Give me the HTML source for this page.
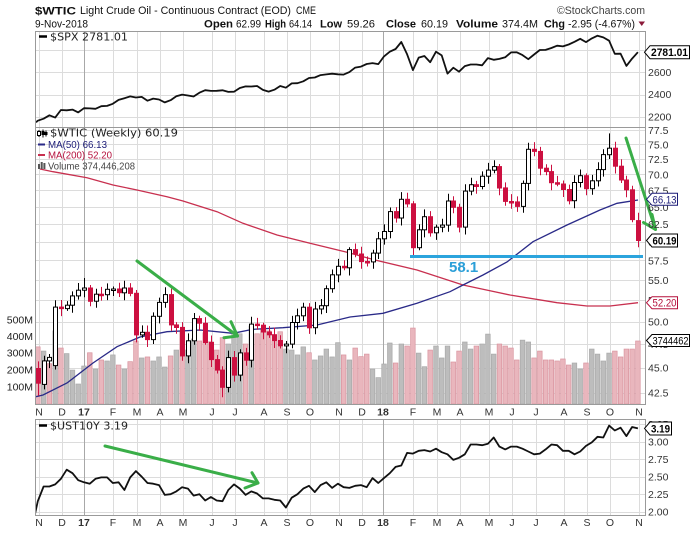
<!DOCTYPE html>
<html><head><meta charset="utf-8"><title>WTIC</title>
<style>
html,body{margin:0;padding:0;background:#fff;width:694px;height:535px;overflow:hidden}
svg{display:block}
.ax{font-family:"Liberation Sans",Arial,sans-serif;font-size:10.5px;fill:#333}
.mo{font-family:"Liberation Sans",Arial,sans-serif;font-size:10.5px;fill:#333;text-anchor:middle}
.lg{font-family:"DejaVu Sans",Verdana,sans-serif;font-size:11px;fill:#222}
.lg2{font-family:"Liberation Sans",Arial,sans-serif;font-size:10.5px}
.hd{font-family:"Liberation Sans",Arial,sans-serif;font-size:11px;fill:#111}
.b{font-weight:bold}
</style></head><body>
<svg id="c" width="694" height="535" viewBox="0 0 694 535" xmlns="http://www.w3.org/2000/svg">
<defs>
<clipPath id="cpS"><rect x="36" y="31" width="609" height="96"/></clipPath>
<clipPath id="cpM"><rect x="36" y="127" width="609" height="277"/></clipPath>
<clipPath id="cpU"><rect x="36" y="419" width="609" height="96"/></clipPath>
</defs>
<rect width="694" height="535" fill="#fff"/>
<g id="grid"></g>
<g id="vol" clip-path="url(#cpM)"></g>
<g clip-path="url(#cpM)" fill="none" stroke-width="1.3">
<polyline stroke="#c8304f" points="40,169 53,171.7 87,177.7 113,185 137,190 167,196.7 183,201 217,211.7 243,223.3 277,235 310,243.3 347,252.3 375,260 417,270 463,285 490,290.7 510,295 557,302.7 587,306 610,306 638,302.7"/>
<polyline stroke="#2a2a88" points="36,396.7 43,395 67,383 93,363 117,346.7 140,337 167,331.7 200,330 233,333.3 253,329.3 283,327.7 317,325 350,317 383,313.3 417,303.3 450,291.7 463,285 483,275 507,262 533,241.7 567,225 600,210 617,203.3 638,200"/>
</g>
<g id="cdl" clip-path="url(#cpM)"></g>
<g id="spx" clip-path="url(#cpS)"></g>
<g id="ust" clip-path="url(#cpU)"></g>

<!-- panel borders -->
<rect x="35.5" y="31.5" width="610" height="96" fill="none" stroke="#9a9a9a"/>
<rect x="35.5" y="127.5" width="610" height="277" fill="none" stroke="#9a9a9a"/>
<rect x="35.5" y="419.5" width="610" height="96" fill="none" stroke="#9a9a9a"/>

<!-- support line -->
<line x1="410" y1="256.5" x2="643" y2="256.5" stroke="#2ba4dd" stroke-width="3"/>
<text x="449" y="272" font-family="Liberation Sans, Arial, sans-serif" font-size="15" font-weight="bold" fill="#2b9fd8">58.1</text>

<!-- green arrows -->
<g fill="none" stroke="#3aae48" stroke-width="3" stroke-linecap="round" stroke-linejoin="round">
<line x1="137" y1="261" x2="237.5" y2="336"/>
<polyline points="231,321.7 237.5,336 224,337.7"/>
<line x1="626" y1="138" x2="655.5" y2="229.5"/>
<polyline points="652,214.5 655.5,229.5 643.5,222.5"/>
<line x1="105" y1="446" x2="258" y2="483"/>
<polyline points="252,472.7 258,483 245,488"/>
</g>

<!-- header -->
<text x="35" y="14.5" class="hd b" font-size="14" textLength="41" lengthAdjust="spacingAndGlyphs">$WTIC</text>
<text x="80" y="14" class="hd" font-size="12.5" textLength="211" lengthAdjust="spacingAndGlyphs">Light Crude Oil - Continuous Contract (EOD)</text>
<text x="296" y="14" class="hd" font-size="9.5" textLength="20" lengthAdjust="spacingAndGlyphs">CME</text>
<text x="557" y="14" class="hd" style="fill:#444" textLength="88" lengthAdjust="spacingAndGlyphs">©StockCharts.com</text>
<text x="35" y="27.3" class="hd" textLength="53" lengthAdjust="spacingAndGlyphs">9-Nov-2018</text>
<text x="204" y="27.3" class="hd b" textLength="29" lengthAdjust="spacingAndGlyphs">Open</text>
<text x="236" y="27.3" class="hd" textLength="25" lengthAdjust="spacingAndGlyphs">62.99</text>
<text x="265" y="27.3" class="hd b" textLength="21" lengthAdjust="spacingAndGlyphs">High</text>
<text x="289" y="27.3" class="hd" textLength="23" lengthAdjust="spacingAndGlyphs">64.14</text>
<text x="320" y="27.3" class="hd b" textLength="22" lengthAdjust="spacingAndGlyphs">Low</text>
<text x="347" y="27.3" class="hd" textLength="28" lengthAdjust="spacingAndGlyphs">59.26</text>
<text x="386" y="27.3" class="hd b" textLength="30" lengthAdjust="spacingAndGlyphs">Close</text>
<text x="421" y="27.3" class="hd" textLength="27" lengthAdjust="spacingAndGlyphs">60.19</text>
<text x="456" y="27.3" class="hd b" textLength="42" lengthAdjust="spacingAndGlyphs">Volume</text>
<text x="502" y="27.3" class="hd" textLength="36" lengthAdjust="spacingAndGlyphs">374.4M</text>
<text x="544" y="27.3" class="hd b" textLength="21" lengthAdjust="spacingAndGlyphs">Chg</text>
<text x="568" y="27.3" class="hd" textLength="67" lengthAdjust="spacingAndGlyphs">-2.95 (-4.67%)</text>
<polygon points="638.5,21.5 645,21.5 641.75,26" fill="#8b1a3a"/>

<!-- legends -->
<line x1="39" y1="36.5" x2="47" y2="36.5" stroke="#000" stroke-width="2.5"/>
<text x="50" y="40.5" class="lg" textLength="78" lengthAdjust="spacingAndGlyphs">$SPX 2781.01</text>

<g fill="#000">
<rect x="38.5" y="130" width="1" height="7"/><rect x="37.5" y="131.5" width="3" height="4" fill="#fff" stroke="#000" stroke-width="1"/>
<rect x="42.5" y="129.5" width="1" height="8"/><rect x="41.5" y="131" width="3" height="4"/>
<rect x="45.5" y="130.5" width="1" height="6"/><rect x="44.5" y="132" width="3" height="3"/>
</g>
<text x="50" y="136.5" class="lg" textLength="128" lengthAdjust="spacingAndGlyphs">$WTIC (Weekly) 60.19</text>
<line x1="38" y1="144.5" x2="45" y2="144.5" stroke="#2a2a88" stroke-width="2"/>
<text x="48" y="148" class="lg2" fill="#1c1c78" textLength="59" lengthAdjust="spacingAndGlyphs">MA(50) 66.13</text>
<line x1="38" y1="155" x2="45" y2="155" stroke="#c8304f" stroke-width="2"/>
<text x="48" y="158.7" class="lg2" fill="#b5103c" textLength="64" lengthAdjust="spacingAndGlyphs">MA(200) 52.20</text>
<g fill="#555">
<rect x="38" y="164" width="2" height="5"/><rect x="40.7" y="162" width="2" height="7"/><rect x="43.4" y="163" width="2" height="6"/>
</g>
<text x="48" y="169.3" class="lg2" fill="#444" textLength="87" lengthAdjust="spacingAndGlyphs">Volume 374,446,208</text>

<line x1="39" y1="425.5" x2="47" y2="425.5" stroke="#000" stroke-width="2.5"/>
<text x="50" y="429.5" class="lg" textLength="78" lengthAdjust="spacingAndGlyphs">$UST10Y 3.19</text>

<!-- right axis SPX -->
<text x="648" y="76" class="ax">2600</text>
<text x="648" y="98" class="ax">2400</text>
<text x="648" y="120.5" class="ax">2200</text>
<text x="648" y="54" class="ax">2800</text>

<!-- right axis main -->
<text x="648" y="134" class="ax">77.5</text>
<text x="648" y="148.3" class="ax">75.0</text>
<text x="648" y="163" class="ax">72.5</text>
<text x="648" y="178.5" class="ax">70.0</text>
<text x="648" y="194.4" class="ax">67.5</text>
<text x="648" y="210.9" class="ax">65.0</text>
<text x="648" y="228" class="ax">62.5</text>
<text x="648" y="245.8" class="ax">60.0</text>
<text x="648" y="264.4" class="ax">57.5</text>
<text x="648" y="283.9" class="ax">55.0</text>
<text x="648" y="304.2" class="ax">52.5</text>
<text x="648" y="325.5" class="ax">50.0</text>
<text x="648" y="347.9" class="ax">47.5</text>
<text x="648" y="371.6" class="ax">45.0</text>
<text x="648" y="396.5" class="ax">42.5</text>

<!-- left volume axis -->
<text x="33" y="323.3" class="ax" text-anchor="end" style="fill:#222">500M</text>
<text x="33" y="340" class="ax" text-anchor="end" style="fill:#222">400M</text>
<text x="33" y="356.5" class="ax" text-anchor="end" style="fill:#222">300M</text>
<text x="33" y="373.3" class="ax" text-anchor="end" style="fill:#222">200M</text>
<text x="33" y="390.3" class="ax" text-anchor="end" style="fill:#222">100M</text>

<!-- right axis UST -->
<text x="648" y="428.2" class="ax">3.25</text>
<text x="648" y="445.7" class="ax">3.00</text>
<text x="648" y="463.2" class="ax">2.75</text>
<text x="648" y="480.7" class="ax">2.50</text>
<text x="648" y="498.2" class="ax">2.25</text>
<text x="648" y="515.7" class="ax">2.00</text>

<!-- value boxes -->
<g font-family="Liberation Sans, Arial, sans-serif" font-size="11">
<polygon points="644.5,52.2 650,45.7 689.5,45.7 689.5,58.7 650,58.7" fill="#fff" stroke="#000"/>
<text x="651" y="56.2" font-weight="bold" fill="#000" textLength="37" lengthAdjust="spacingAndGlyphs">2781.01</text>

<polygon points="646.5,199.3 652,193.3 677.5,193.3 677.5,205.3 652,205.3" fill="#fff" stroke="#1c1c78"/>
<text x="652.5" y="203.3" fill="#1c1c78" textLength="24" lengthAdjust="spacingAndGlyphs">66.13</text>

<polygon points="646.5,240.5 652,234 677.5,234 677.5,247 652,247" fill="#fff" stroke="#000"/>
<text x="652.5" y="244.6" font-weight="bold" fill="#000" textLength="24" lengthAdjust="spacingAndGlyphs">60.19</text>

<polygon points="646.5,302.7 652,296.7 677.5,296.7 677.5,308.7 652,308.7" fill="#fff" stroke="#b5103c"/>
<text x="652.5" y="306.7" fill="#b5103c" textLength="24" lengthAdjust="spacingAndGlyphs">52.20</text>

<polygon points="646.5,340.5 652,334.5 689.5,334.5 689.5,346.5 652,346.5" fill="#fff" stroke="#000"/>
<text x="652.5" y="344.5" fill="#000" textLength="36" lengthAdjust="spacingAndGlyphs">3744462</text>

<polygon points="644.5,428.4 650,422 671.5,422 671.5,435 650,435" fill="#fff" stroke="#000"/>
<text x="651" y="432.5" font-weight="bold" fill="#000" textLength="19" lengthAdjust="spacingAndGlyphs">3.19</text>
</g>

<!-- month labels middle -->
<g>
<text x="39" y="415.5" class="mo">N</text><text x="62" y="415.5" class="mo">D</text><text x="84" y="415.5" class="mo b">17</text><text x="113" y="415.5" class="mo">F</text><text x="137" y="415.5" class="mo">M</text><text x="160" y="415.5" class="mo">A</text><text x="183" y="415.5" class="mo">M</text><text x="212" y="415.5" class="mo">J</text><text x="235" y="415.5" class="mo">J</text><text x="264" y="415.5" class="mo">A</text><text x="287" y="415.5" class="mo">S</text><text x="310" y="415.5" class="mo">O</text><text x="339" y="415.5" class="mo">N</text><text x="362" y="415.5" class="mo">D</text><text x="383" y="415.5" class="mo b">18</text><text x="413" y="415.5" class="mo">F</text><text x="437" y="415.5" class="mo">M</text><text x="460" y="415.5" class="mo">A</text><text x="489" y="415.5" class="mo">M</text><text x="512" y="415.5" class="mo">J</text><text x="536" y="415.5" class="mo">J</text><text x="564" y="415.5" class="mo">A</text><text x="587" y="415.5" class="mo">S</text><text x="610" y="415.5" class="mo">O</text><text x="639" y="415.5" class="mo">N</text>
</g>
<g>
<text x="39" y="526" class="mo">N</text><text x="62" y="526" class="mo">D</text><text x="84" y="526" class="mo b">17</text><text x="113" y="526" class="mo">F</text><text x="137" y="526" class="mo">M</text><text x="160" y="526" class="mo">A</text><text x="183" y="526" class="mo">M</text><text x="212" y="526" class="mo">J</text><text x="235" y="526" class="mo">J</text><text x="264" y="526" class="mo">A</text><text x="287" y="526" class="mo">S</text><text x="310" y="526" class="mo">O</text><text x="339" y="526" class="mo">N</text><text x="362" y="526" class="mo">D</text><text x="383" y="526" class="mo b">18</text><text x="413" y="526" class="mo">F</text><text x="437" y="526" class="mo">M</text><text x="460" y="526" class="mo">A</text><text x="489" y="526" class="mo">M</text><text x="512" y="526" class="mo">J</text><text x="536" y="526" class="mo">J</text><text x="564" y="526" class="mo">A</text><text x="587" y="526" class="mo">S</text><text x="610" y="526" class="mo">O</text><text x="639" y="526" class="mo">N</text>
</g>
</svg>
<script>
(function(){
var NS="http://www.w3.org/2000/svg";
function el(p,t,a){var e=document.createElementNS(NS,t);for(var k in a)e.setAttribute(k,a[k]);document.getElementById(p).appendChild(e);return e;}
function X(w){return 84+5.77*w;}
function YP(p){return 130+437*Math.log(77.5/p);}
function YS(v){return 72.3-(v-2600)*0.111;}
function YU(v){return 441.7-(v-3)*70;}
var mx=[39,62,84,113,137,160,183,212,235,264,287,310,339,362,383,413,437,460,489,512,536,564,587,610,639];
function hl(y){y=Math.round(y)+0.5;el('grid','line',{x1:36,x2:645,y1:y,y2:y,stroke:'#dcdcdc','stroke-width':1});}
[2200,2400,2600,2800].forEach(function(v){hl(YS(v));});
for(var p=42.5;p<=77.6;p+=2.5)hl(YP(p));
[2,2.25,2.5,2.75,3,3.25].forEach(function(v){hl(YU(v));});
mx.forEach(function(x){
 var yr=(x==84||x==383),col=yr?'#a8a8a8':'#dcdcdc';
 [[31,127],[127,404],[419,515]].forEach(function(r){el('grid','line',{x1:x+0.5,x2:x+0.5,y1:r[0],y2:r[1],stroke:col,'stroke-width':1});});
});
var C=[43.41,45.69,46.06,51.68,51.50,51.90,53.02,53.72,
53.99,52.37,53.22,53.17,53.83,53.86,53.40,53.99,53.33,48.49,48.78,47.97,50.60,52.24,53.18,49.62,49.33,46.22,47.84,50.33,49.80,47.66,45.83,44.74,43.01,46.04,44.23,46.54,45.77,49.71,49.58,48.82,48.51,47.87,47.29,47.48,49.89,50.66,51.67,49.29,51.45,51.84,53.90,55.64,56.74,56.55,58.95,58.36,57.36,57.30,58.47,60.42,
61.44,64.30,63.37,66.14,65.45,59.20,61.68,63.55,61.25,62.04,62.34,65.88,64.94,62.06,67.39,68.38,68.10,69.72,70.70,71.28,67.88,65.81,65.74,65.06,68.58,74.15,73.80,71.01,70.46,68.69,68.49,67.63,65.91,68.72,69.80,67.75,68.99,70.78,73.25,74.34,71.34,69.12,67.59,63.14,60.19];
var V=[340,315,240,435,333,300,202,119,226,305,208,262,256,292,232,208,252,375,274,280,256,280,220,286,321,435,321,387,375,424,371,321,395,357,424,418,357,464,418,446,435,375,430,327,321,292,340,305,262,286,327,280,365,292,262,
333,282,297,208,157,238,363,244,357,345,452,303,222,321,345,274,345,250,315,369,327,345,357,416,297,357,345,333,262,380,369,274,315,262,262,256,268,232,244,208,244,327,297,256,303,315,280,327,327,375];
var VC="pgpgp"+"ggggp"+"gpggp"+"gppgp"+"gggpg"+"pggpp"+"pppgg"+"gpgpp"+"pppgg"+"ggpgg"+"gggpg"+
"pppgg"+"ggpgp"+"pggpg"+"ggppg"+"gpggg"+"ppppg"+"gpppp"+"pppgg"+"pgggg"+"ppppp";
var i,w,x,y;
for(i=0;i<V.length;i++){
 w=i-8;x=X(w);var pk=VC.charAt(i)=='p';y=404-V[i]*0.168;
 el('vol','rect',{x:(x-2.3).toFixed(2),y:y.toFixed(2),width:4.6,height:(404-y).toFixed(2),fill:pk?'#e9b6bd':'#bdbdbd',stroke:pk?'#d9949f':'#a9a9a9','stroke-width':0.7});
}
var OV={"-8":{o:44.9,l:42.2},"-7":{o:43.3},"-5":{o:45.2,l:44.8},"0":{h:55.24},"24":{l:42.05},"57":{l:58.07},"91":{h:76.9},"96":{o:62.99,h:64.14,l:59.26}};
for(i=0;i<C.length;i++){
 w=i-8;x=Math.round(X(w));var c=C[i];
 var o=i==0?44.9:C[i-1];var ov=OV[String(w)]||{};
 if(ov.o!==undefined)o=ov.o;
 var f1=0.3+0.7*Math.abs(Math.sin(w*2.3+1)),f2=0.3+0.7*Math.abs(Math.cos(w*1.7+0.4));
 var h=Math.max(o,c)+c*0.017*f1,l=Math.min(o,c)-c*0.017*f2;
 if(ov.h!==undefined)h=ov.h; if(ov.l!==undefined)l=ov.l;
 var up=c>=o,col=up?'#000':'#cc1040';
 el('cdl','line',{x1:x+0.5,x2:x+0.5,y1:YP(h).toFixed(1),y2:YP(l).toFixed(1),stroke:col,'stroke-width':1});
 var yt=YP(Math.max(o,c)),yb=YP(Math.min(o,c));if(yb-yt<1.5)yb=yt+1.5;
 el('cdl','rect',{x:x-1.5,y:yt.toFixed(1),width:4,height:(yb-yt).toFixed(1),fill:up?'#fff':col,stroke:col,'stroke-width':1});
}
var S=[2164,2182,2213,2192,2260,2258,2264,2239,2277,2275,2271,2295,2297,2316,2351,2367,2383,2373,2378,2344,2363,2355,2329,2349,2384,2399,2391,2382,2416,2439,2432,2433,2438,2423,2425,2459,2473,2472,2477,2441,2426,2443,2477,2461,2500,2502,2519,2549,2553,2575,2581,2587,2582,2579,2602,2642,2651,2675,2683,2674,2743,2786,2810,2873,2762,2620,2732,2747,2691,2786,2752,2588,2641,2605,2656,2670,2670,2663,2728,2713,2721,2735,2779,2780,2755,2718,2760,2801,2802,2819,2840,2833,2850,2875,2902,2872,2905,2930,2914,2885,2767,2768,2658,2723,2781];
var pts=["36,"+YS(2150).toFixed(1)];
for(i=0;i<S.length;i++){pts.push(X(i-8).toFixed(1)+","+YS(S[i]).toFixed(1));}
el('spx','polyline',{points:pts.join(' '),fill:'none',stroke:'#111','stroke-width':1.8,'stroke-linejoin':'round'});
var U=[2.15,2.36,2.36,2.39,2.47,2.60,2.55,2.45,2.42,2.40,2.47,2.49,2.49,2.41,2.42,2.31,2.49,2.58,2.50,2.41,2.40,2.38,2.24,2.25,2.29,2.35,2.33,2.23,2.25,2.16,2.21,2.16,2.15,2.31,2.39,2.33,2.24,2.29,2.26,2.19,2.19,2.17,2.16,2.06,2.20,2.25,2.33,2.37,2.28,2.38,2.42,2.34,2.40,2.35,2.34,2.37,2.38,2.35,2.48,2.41,2.48,2.55,2.64,2.66,2.84,2.83,2.87,2.88,2.86,2.90,2.85,2.82,2.74,2.77,2.82,2.96,2.96,2.95,2.97,3.06,2.93,2.89,2.93,2.93,2.90,2.86,2.82,2.83,2.89,2.96,2.95,2.87,2.87,2.82,2.86,2.94,2.99,3.07,3.06,3.23,3.16,3.20,3.08,3.21,3.19];
pts=[X(-9).toFixed(1)+","+YU(1.78).toFixed(1)];
for(i=0;i<U.length;i++){pts.push(X(i-8).toFixed(1)+","+YU(U[i]).toFixed(1));}
el('ust','polyline',{points:pts.join(' '),fill:'none',stroke:'#111','stroke-width':1.8,'stroke-linejoin':'round'});
})();
</script>
</body></html>
